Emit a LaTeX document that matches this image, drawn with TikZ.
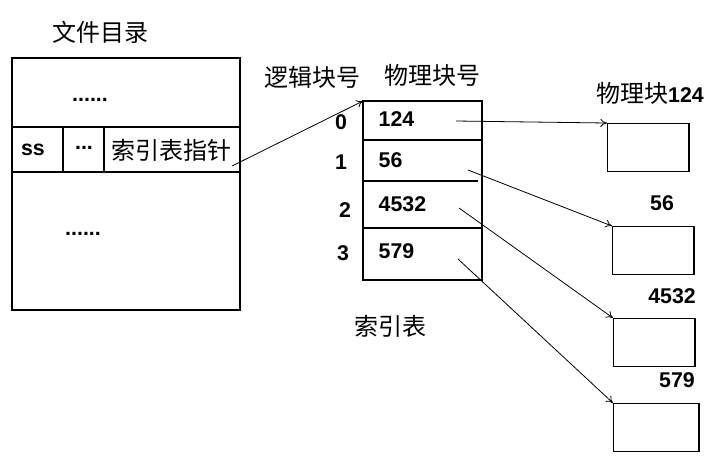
\documentclass[tikz,border=0pt]{standalone}
\usepackage{fontspec}
\setmainfont{Liberation Sans}
\newfontfamily\cjk{Noto Sans CJK SC}
\usetikzlibrary{arrows.meta}
\begin{document}
\begin{tikzpicture}[x=0.75pt,y=-0.75pt,
    box/.style={draw,line width=1pt},
    blkbox/.style={box,anchor=north west,inner sep=0pt,minimum width=61pt,minimum height=36pt},
    cn/.style={font=\cjk\fontsize{18}{20}\selectfont},
    num/.style={font=\bfseries\fontsize{16}{18}\selectfont},
    link/.style={-{To[length=5pt,width=6pt]},line width=0.6pt}]
  \useasboundingbox (0,0) rectangle (723,469);
  % file directory
  \node[cn] (dirtitle) at (100,32) {文件目录};
  \draw[box] (12,58) rectangle (240,310);
  \draw[box] (12,127) -- (240,127) (12,172) -- (240,172)
    (63,127) -- (63,172) (104,127) -- (104,172);
  \node[num] (dots1) at (90,100) {......};
  \node[num] (dots2) at (83,234) {......};
  \node[num] (ss) at (33,150) {ss};
  \node[num] (etc) at (84,148) {...};
  \node[cn] (ptrtext) at (171,150) {索引表指针};
  \coordinate (ptr) at (232,166);
  % index table
  \node[cn] (logic) at (312,77) {逻辑块号};
  \node[cn] (phys) at (432,75) {物理块号};
  \draw[box] (363,101) rectangle (482,280);
  \draw[box] (363,140) -- (482,140) (363,181) -- (478,181) (363,228) -- (482,228);
  \coordinate (tabtop) at (363,101);
  \foreach \i/\y/\dx in {0/122/-2,1/162/-2,2/210/2,3/253/0}
    \node[num] (lb\i) at (343+\dx,\y) {\i};
  \foreach \v/\y [count=\i from 0] in {124/119,56/160,4532/204,579/251}
    \node[num,anchor=west] (val\i) at (374,\y) {\v};
  \node[cn] (tabname) at (390,326) {索引表};
  % physical blocks
  \node[blkbox] (blk0) at (607,123) {};
  \node[blkbox] (blk1) at (612,226) {};
  \node[blkbox] (blk2) at (613,318) {};
  \node[blkbox,minimum width=64pt] (blk3) at (613,403) {};
  \node (blktitle) at (650,93) {{\cjk\fontsize{18}{20}\selectfont 物理块}{\bfseries\fontsize{16}{18}\selectfont 124}};
  \node[num] (bl1) at (662,203) {56};
  \node[num] (bl2) at (672,296) {4532};
  \node[num] (bl3) at (677,380) {579};
  \coordinate (s0) at (456,121);
  \coordinate (s1) at (468,170);
  \coordinate (s2) at (459,208);
  \coordinate (s3) at (458,259);
  % links
  \draw[link] (ptr) -- (tabtop);
  \foreach \i in {0,...,3}
    \draw[link] (s\i) -- (blk\i.north west);
\end{tikzpicture}
\end{document}
